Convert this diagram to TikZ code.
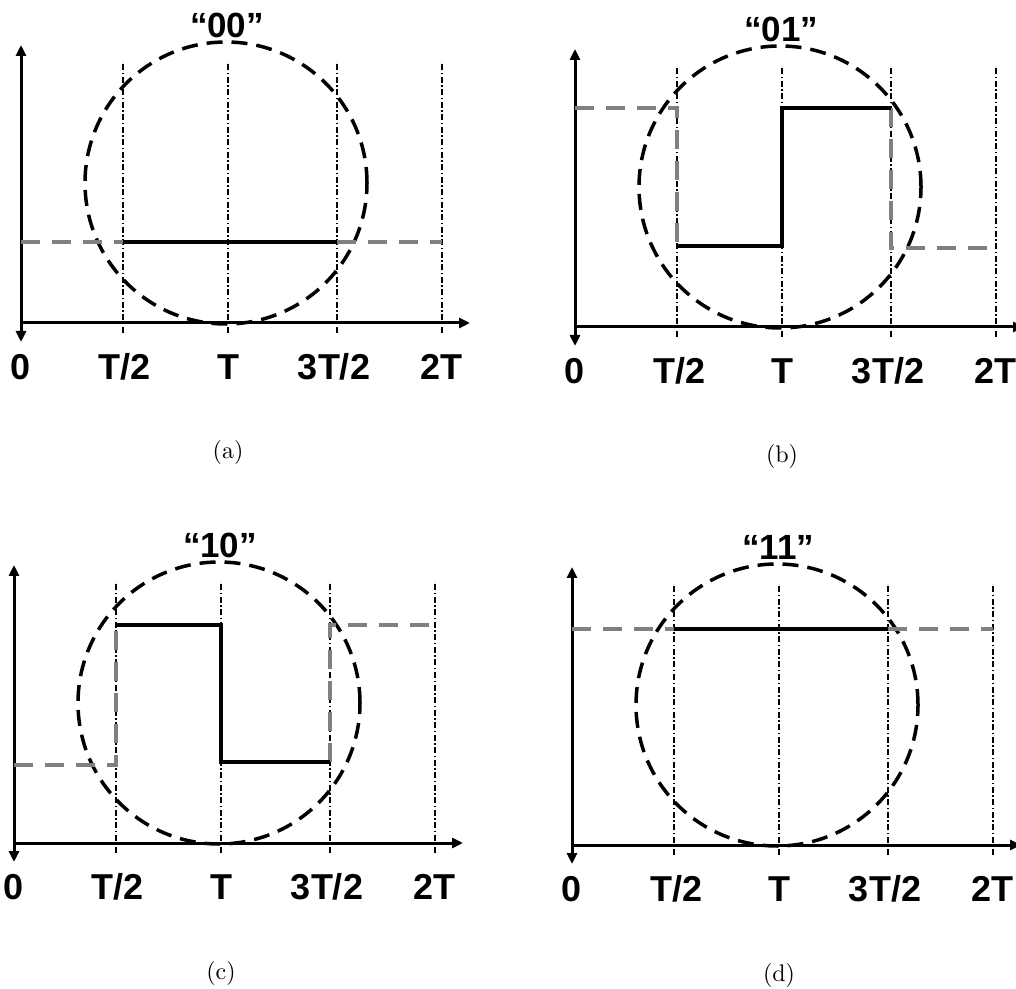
\documentclass[tikz,border=0pt]{standalone}
\usepackage{fontspec}
\setsansfont{Liberation Sans}
\newfontfamily\capfont{lmroman10-regular}[Extension=.otf]
\usetikzlibrary{arrows.meta}
\tikzset{
 axis/.style={line width=3pt},
 vline/.style={line width=1.3pt, dash pattern=on 6pt off 2.5pt on 1.5pt off 2.5pt},
 ring/.style={line width=3.5pt, dash pattern=on 16pt off 9pt},
 sig/.style={line width=4pt},
 ghost/.style={line width=4.8pt, black!50, dash pattern=on 19pt off 12pt},
 ticklab/.style={font=\fontsize{36}{40}\selectfont\sffamily\bfseries, inner sep=0pt},
 ttl/.style={font=\fontsize{35}{40}\selectfont\sffamily\bfseries, inner sep=0pt},
 captxt/.style={font=\fontsize{24}{28}\selectfont\capfont, inner sep=0pt},
 tri/.tip={Triangle[length=11pt,width=10pt]},
}
\newcommand\mypanel[3]{%
  \foreach \xx in {102,207,316,421} \draw[vline] (\xx,-10) -- (\xx,261);
  \draw[ring] (205,140) circle[radius=141];
  \draw[axis, tri-tri] (0,-19) -- (0,278);
  \draw[axis, -tri] (0,0) -- (449,0);
  \node[ttl] (#1title) at (206,298) {#2};
  \node[ticklab] (#1t0) at (0,-44) {0};
  \node[ticklab] (#1t1) at (104,-44) {T/2};
  \node[ticklab] (#1t2) at (207,-44) {T};
  \node[ticklab] (#1t3) at (313,-44) {3T/2};
  \node[ticklab] (#1t4) at (420,-44) {2T};
  \node[captxt] (#1cap) at (207,-130) {#3};
}
\begin{document}
\begin{tikzpicture}[x=1pt,y=1pt]
\useasboundingbox (0,0) rectangle (1016,988);
% (a)
\begin{scope}[shift={(21,665)}]
  \mypanel{a}{“00”}{(a)}
  \draw[ghost] (0,81) -- (102,81);
  \draw[ghost] (316,81) -- (421,81);
  \draw[sig] (102,81) -- (316,81);
\end{scope}
% (b)
\begin{scope}[shift={(575,661)}]
  \mypanel{b}{“01”}{(b)}
  \draw[ghost] (0,219) -- (102,219) -- (102,81);
  \draw[ghost] (316,219) -- (316,79) -- (421,79);
  \draw[sig] (102,81) -- (207,81) -- (207,219) -- (316,219);
\end{scope}
% (c)
\begin{scope}[shift={(14,145)}]
  \mypanel{c}{“10”}{(c)}
  \draw[ghost] (0,78) -- (102,78) -- (102,218);
  \draw[ghost] (316,81) -- (316,218) -- (421,218);
  \draw[sig] (102,218) -- (207,218) -- (207,81) -- (316,81);
\end{scope}
% (d)
\begin{scope}[shift={(572,143)}]
  \mypanel{d}{“11”}{(d)}
  \draw[ghost] (0,216) -- (102,216);
  \draw[ghost] (316,216) -- (421,216);
  \draw[sig] (102,216) -- (316,216);
\end{scope}
\end{tikzpicture}
\end{document}
